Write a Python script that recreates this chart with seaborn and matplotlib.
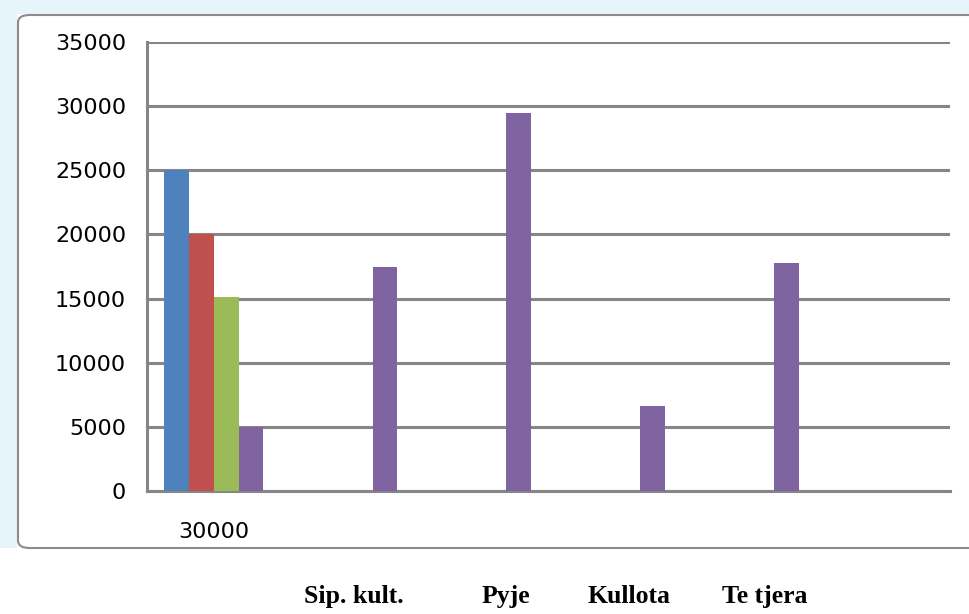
import matplotlib
matplotlib.use("Agg")
import matplotlib.pyplot as plt
from matplotlib.patches import FancyBboxPatch, Rectangle
import seaborn as sns
import pandas as pd

# data
categories = ["c1", "c2", "c3", "c4", "c5", "c6"]
tick_labels = ["30000", "", "", "", "", ""]
series = ["S1", "S2", "S3", "S4"]
s1 = [25000, 0, 0, 0, 0, 0]
s2 = [20000, 0, 0, 0, 0, 0]
s3 = [15100, 0, 0, 0, 0, 0]
s4 = [5000, 17500, 29500, 6600, 17800, 0]
bottom_words = ["Sip. kult.", "Pyje", "Kullota", "Te tjera"]
yticks = [0, 5000, 10000, 15000, 20000, 25000, 30000, 35000]

colors = ["#4F81BD", "#C0504D", "#9BBB59", "#8064A2"]

rows = []
for name, vals in zip(series, [s1, s2, s3, s4]):
    for c, v in zip(categories, vals):
        rows.append({"cat": c, "serie": name, "val": v})
df = pd.DataFrame(rows)

sns.set_style("white")
fig = plt.figure(figsize=(9.7, 6.14), dpi=100)
W, H = 970, 614

# spreadsheet background strips and chart frame (behind the axes)
fig.patches.append(Rectangle((0, (H - 548) / H), 17 / W, 548 / H, transform=fig.transFigure,
                             facecolor="#e6f5f9", edgecolor="none", zorder=-3))
fig.patches.append(Rectangle((0, (H - 14) / H), 1, 14 / H, transform=fig.transFigure,
                             facecolor="#e6f5f9", edgecolor="none", zorder=-3))
fig.patches.append(FancyBboxPatch((18 / W, (H - 548) / H), 1.2, (548 - 15) / H,
                                  boxstyle="round,pad=0,rounding_size=0.012",
                                  transform=fig.transFigure, facecolor="white",
                                  edgecolor="#8c8c8c", linewidth=1.5, zorder=-2))

ax = fig.add_axes([147 / W, (H - 491) / H, (950 - 147) / W, (491 - 42) / H])
ax.set_facecolor("none")
sns.barplot(data=df, x="cat", y="val", hue="serie", order=categories, hue_order=series,
            palette=colors, width=0.74, saturation=1, legend=False, ax=ax, zorder=3,
            linewidth=0, edgecolor="none")

ax.set_ylim(0, 35000)
ax.set_xlim(-0.5, len(categories) - 0.5)
ax.set_yticks(yticks)
ax.set_yticklabels([str(t) for t in yticks], fontsize=16, family="DejaVu Sans", color="black")
ax.set_xticks(range(len(categories)))
ax.set_xticklabels(tick_labels, fontsize=16, family="DejaVu Sans", color="black")
ax.set_xticks([i - 0.5 for i in range(len(categories) + 1)], minor=True)
ax.tick_params(axis="x", which="major", length=0, pad=22)
ax.tick_params(axis="x", which="minor", length=6, width=2.2, color="#868686", direction="out")
ax.tick_params(axis="y", length=9, width=2.2, color="#868686", direction="out", pad=6)
ax.set_xlabel("")
ax.set_ylabel("")

ax.grid(axis="y", color="#868686", linewidth=2.2, zorder=0)
ax.set_axisbelow(True)
for side in ["top", "right"]:
    ax.spines[side].set_visible(False)
for side in ["left", "bottom"]:
    ax.spines[side].set_color("#868686")
    ax.spines[side].set_linewidth(2.2)

# words under the chart
xs = [304, 482, 588, 722]
for word, x in zip(bottom_words, xs):
    fig.text(x / W, (H - 603) / H, word, fontsize=18.5, fontweight="bold",
             family="Liberation Serif", color="black", ha="left", va="baseline")

fig.savefig("out.png", dpi=100)
